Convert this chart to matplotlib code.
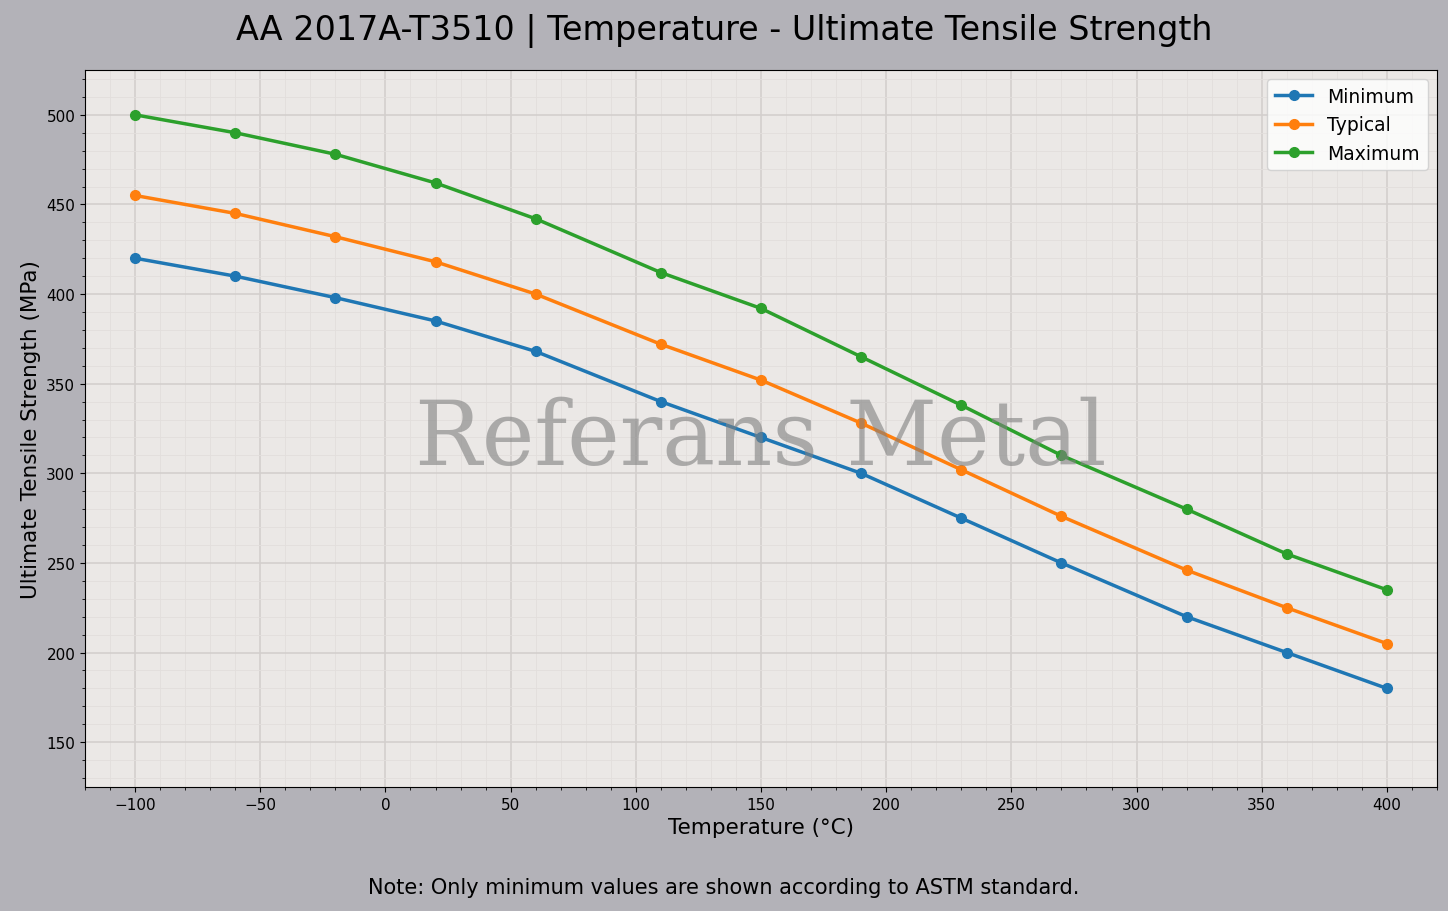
import matplotlib.pyplot as plt
from matplotlib.ticker import AutoMinorLocator

temps = [-100, -60, -20, 20, 60, 110, 150, 190, 230, 270, 320, 360, 400]
uts_min = [420, 410, 398, 385, 368, 340, 320, 300, 275, 250, 220, 200, 180]
uts_typ = [455, 445, 432, 418, 400, 372, 352, 328, 302, 276, 246, 225, 205]
uts_max = [500, 490, 478, 462, 442, 412, 392, 365, 338, 310, 280, 255, 235]

fig = plt.figure(figsize=(14.48, 9.12), dpi=100, facecolor="#b3b2b8")
ax = fig.add_axes([85 / 1448, 1 - 788 / 912, (1437 - 85) / 1448, (788 - 71) / 912])
ax.set_facecolor("#ebe8e6")

ax.plot(temps, uts_min, "o-", color="#1f77b4", lw=2.5, ms=7, label="Minimum")
ax.plot(temps, uts_typ, "o-", color="#ff7f0e", lw=2.5, ms=7, label="Typical")
ax.plot(temps, uts_max, "o-", color="#2ca02c", lw=2.5, ms=7, label="Maximum")

ax.set_xlim(-120, 420)
ax.set_ylim(125, 525)
ax.set_xticks(range(-100, 401, 50))
ax.set_yticks(range(150, 501, 50))
ax.xaxis.set_minor_locator(AutoMinorLocator(5))
ax.yaxis.set_minor_locator(AutoMinorLocator(5))
ax.grid(which="major", color="#d3cfcd", lw=1.2)
ax.grid(which="minor", color="#e2dedc", lw=0.6)
ax.set_axisbelow(True)
ax.tick_params(labelsize=11)

ax.text(0.5, 0.485, "Referans Metal", transform=ax.transAxes, ha="center", va="center",
        fontsize=64, family="DejaVu Serif", color="#808080", alpha=0.6)

ax.set_xlabel("Temperature (°C)", fontsize=15.5)
ax.set_ylabel("Ultimate Tensile Strength (MPa)", fontsize=15.5)
fig.suptitle("AA 2017A-T3510 | Temperature - Ultimate Tensile Strength", fontsize=24, y=0.985)
ax.legend(loc="upper right", fontsize=13.5)
fig.text(0.5, 1 - 888 / 912, "Note: Only minimum values are shown according to ASTM standard.",
         ha="center", va="center", fontsize=15)

fig.savefig("out.png", dpi=100, facecolor=fig.get_facecolor())
